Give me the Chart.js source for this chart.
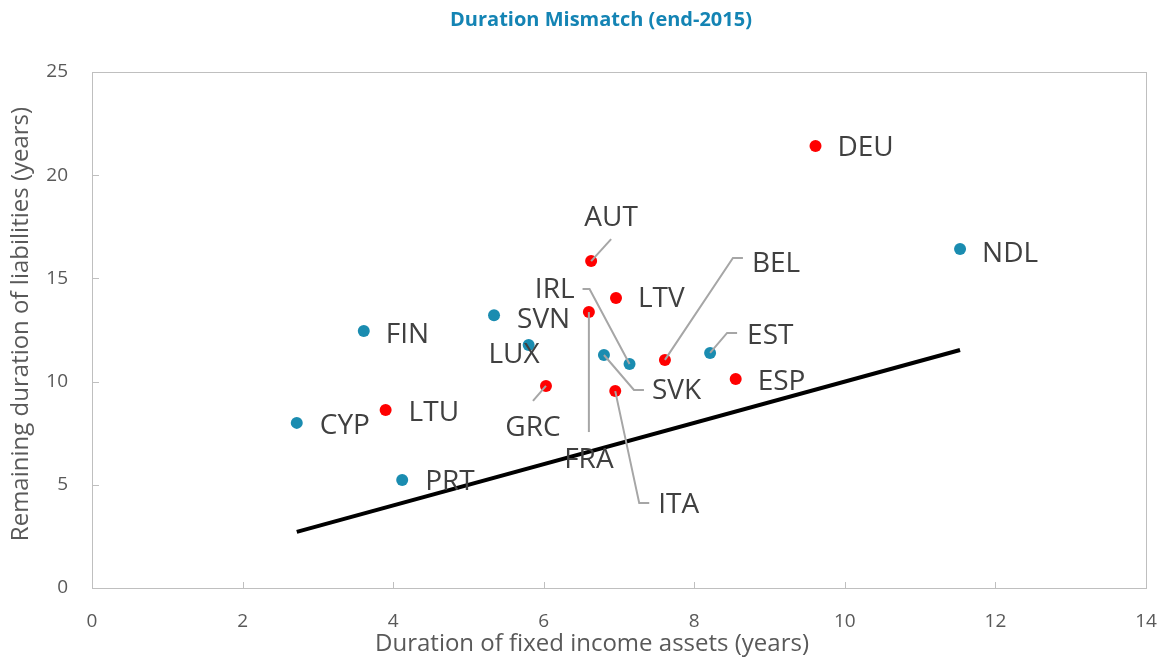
<!DOCTYPE html>
<html lang="en">
<head>
  <meta charset="UTF-8" />
  <title>Duration Mismatch (end-2015)</title>
  <script src="https://cdn.jsdelivr.net/npm/chart.js"></script>
  <style>
    body {
      margin: 0;
      padding: 0;
      background: #fff;
    }
    #wrap {
      width: 1164px;
      height: 660px;
    }
  </style>
</head>
<body>
  <div id="wrap"><canvas id="grafico"></canvas></div>

  <script>
    // blue group
    const blueNames = ["CYP", "FIN", "PRT", "SVN", "LUX", "SVK", "IRL", "EST", "NDL"];
    const blueX = [2.72, 3.61, 4.12, 5.34, 5.80, 6.80, 7.14, 8.21, 11.53];
    const blueY = [8.0, 12.45, 5.23, 13.22, 11.77, 11.29, 10.85, 11.39, 16.42];

    // red group
    const redNames = ["LTU", "GRC", "FRA", "AUT", "ITA", "LTV", "BEL", "ESP", "DEU"];
    const redX = [3.90, 6.03, 6.60, 6.63, 6.95, 6.96, 7.61, 8.55, 9.61];
    const redY = [8.62, 9.79, 13.37, 15.84, 9.54, 14.05, 11.05, 10.13, 21.41];

    // 45 degree reference line
    const lineX = [2.72, 11.53];
    const lineY = [2.72, 11.53];

    const xTicks = [0, 2, 4, 6, 8, 10, 12, 14];
    const yTicks = [0, 5, 10, 15, 20, 25];

    const titulo = 'Duration Mismatch (end-2015)';
    const tituloX = 'Duration of fixed income assets (years)';
    const tituloY = 'Remaining duration of liabilities (years)';

    // label placement (pixel offsets from the point) and leader lines
    const labelPos = {
      CYP: { dx: 23, dy: 3 },
      FIN: { dx: 22, dy: 4 },
      PRT: { dx: 23, dy: 2 },
      SVN: { dx: 23, dy: 5 },
      LUX: { dx: 11, dy: 10, align: 'right' },
      SVK: { dx: 48, dy: 36, lead: [[0, 0], [30, 35], [40, 35]] },
      IRL: { dx: -55, dy: -74, align: 'right', lead: [[0, 0], [-40, -75], [-47, -75]] },
      EST: { dx: 37, dy: -17, lead: [[0, 0], [17, -20], [27, -20]] },
      NDL: { dx: 22, dy: 5 },
      LTU: { dx: 23, dy: 3 },
      GRC: { dx: -13, dy: 42, align: 'center', lead: [[0, 0], [-13, 15]] },
      FRA: { dx: 0, dy: 148, align: 'center', lead: [[0, 0], [0, 120]] },
      AUT: { dx: 20, dy: -43, align: 'center', lead: [[0, 0], [20, -22]] },
      ITA: { dx: 43, dy: 114, lead: [[0, 0], [24, 112], [34, 112]] },
      LTV: { dx: 22, dy: 1 },
      BEL: { dx: 87, dy: -96, lead: [[0, 0], [68, -102], [78, -102]] },
      ESP: { dx: 22, dy: 3 },
      DEU: { dx: 22, dy: 2 }
    };

    const toPts = (xs, ys) => xs.map((x, i) => ({ x: x, y: ys[i] }));

    const boxPlugin = {
      id: 'box',
      beforeDatasetsDraw(chart) {
        const { ctx, chartArea: a, scales } = chart;
        ctx.save();
        ctx.strokeStyle = '#bfbfbf';
        ctx.lineWidth = 1;
        ctx.strokeRect(a.left + 0.5, a.top + 0.5, a.right - a.left, a.bottom - a.top);
        ctx.beginPath();
        xTicks.forEach(v => {
          const px = Math.round(scales.x.getPixelForValue(v)) + 0.5;
          ctx.moveTo(px, a.bottom);
          ctx.lineTo(px, a.bottom - 6);
        });
        yTicks.forEach(v => {
          const py = Math.round(scales.y.getPixelForValue(v)) + 0.5;
          ctx.moveTo(a.left, py);
          ctx.lineTo(a.left + 7, py);
        });
        ctx.stroke();

        // titles
        ctx.textAlign = 'center';
        ctx.textBaseline = 'middle';
        ctx.fillStyle = '#1484b4';
        ctx.font = 'bold 20px "Open Sans", sans-serif';
        ctx.fillText(titulo, 601, 20);
        ctx.fillStyle = '#595959';
        ctx.font = '24px "Open Sans", sans-serif';
        ctx.fillText(tituloX, 592, 644);
        ctx.translate(21, 324);
        ctx.rotate(-Math.PI / 2);
        ctx.fillText(tituloY, 0, 0);
        ctx.restore();
      }
    };

    const labelPlugin = {
      id: 'etiquetas',
      afterDatasetsDraw(chart) {
        const { ctx } = chart;
        ctx.save();
        ctx.font = '28px "Open Sans", sans-serif';
        ctx.textBaseline = 'middle';
        [0, 1].forEach(di => {
          const ds = chart.data.datasets[di];
          const meta = chart.getDatasetMeta(di);
          meta.data.forEach((el, i) => {
            const name = ds.names[i];
            const p = labelPos[name];
            if (!p) return;
            if (p.lead) {
              ctx.strokeStyle = '#a6a6a6';
              ctx.lineWidth = 2;
              ctx.beginPath();
              p.lead.forEach((o, k) => {
                if (k === 0) ctx.moveTo(el.x + o[0], el.y + o[1]);
                else ctx.lineTo(el.x + o[0], el.y + o[1]);
              });
              ctx.stroke();
            }
            ctx.textAlign = p.align || 'left';
            ctx.fillStyle = '#404040';
            ctx.fillText(name, el.x + p.dx, el.y + p.dy);
          });
        });
        ctx.restore();
      }
    };

    new Chart(document.getElementById('grafico').getContext('2d'), {
      type: 'scatter',
      data: {
        datasets: [
          {
            names: blueNames,
            data: toPts(blueX, blueY),
            backgroundColor: '#1a8cb0',
            borderWidth: 0,
            pointRadius: 6
          },
          {
            names: redNames,
            data: toPts(redX, redY),
            backgroundColor: '#ff0000',
            borderWidth: 0,
            pointRadius: 6
          },
          {
            type: 'line',
            data: toPts(lineX, lineY),
            borderColor: '#000',
            borderWidth: 4,
            pointRadius: 0,
            fill: false
          }
        ]
      },
      options: {
        responsive: true,
        maintainAspectRatio: false,
        animation: false,
        layout: { padding: { left: 0, right: 18, top: 72, bottom: 0 } },
        plugins: {
          legend: { display: false },
          tooltip: { enabled: false },
          title: { display: false }
        },
        scales: {
          x: {
            type: 'linear',
            min: 0,
            max: 14,
            afterBuildTicks: s => { s.ticks = xTicks.map(v => ({ value: v })); },
            afterFit: s => { s.height = 72; s.paddingLeft = 0; s.paddingRight = 0; },
            grid: { display: false },
            border: { display: false },
            ticks: {
              color: '#595959',
              font: { family: '"Open Sans", sans-serif', size: 19 },
              padding: 14
            }
          },
          y: {
            min: 0,
            max: 25,
            afterBuildTicks: s => { s.ticks = yTicks.map(v => ({ value: v })); },
            afterFit: s => { s.width = 92; s.paddingTop = 0; s.paddingBottom = 0; },
            grid: { display: false },
            border: { display: false },
            ticks: {
              color: '#595959',
              font: { family: '"Open Sans", sans-serif', size: 19 },
              padding: 16
            }
          }
        }
      },
      plugins: [boxPlugin, labelPlugin]
    });
  </script>
</body>
</html>
